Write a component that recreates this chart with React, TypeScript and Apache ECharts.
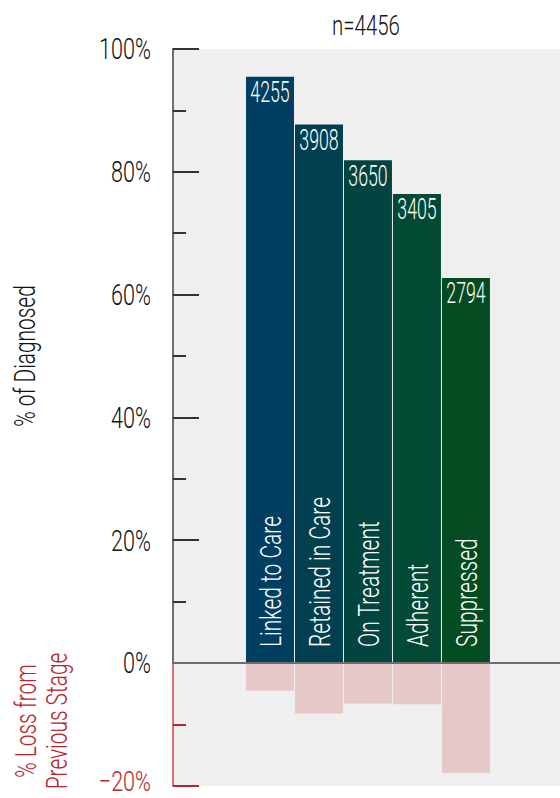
import React, { useEffect, useRef } from "react";
import * as echarts from "echarts";

const stages = ["Linked to Care", "Retained in Care", "On Treatment", "Adherent", "Suppressed"];
const counts = [4255, 3908, 3650, 3405, 2794];
const pctDiagnosed = [95.5, 87.7, 81.9, 76.4, 62.7];
const pctLoss = [-4.5, -8.2, -6.6, -6.7, -17.9];
const totalN = 4456;
const posTicks = [0, 20, 40, 60, 80, 100];
const posTickLabels = ["0%", "20%", "40%", "60%", "80%", "100%"];
const lossTicks = [-20];
const lossTickLabels = ["\u221220%"];
const barColors = ["#003e62", "#02404f", "#024540", "#024a33", "#034c21"];
const lossColor = "#e6c8c9";
const red = "#b5272d";
const ink = "#111";
const FONT = "Roboto, 'DejaVu Sans', sans-serif";
const WEIGHT = 300;
const X_MIN = -0.98;
const X_MAX = 6.92;

export default function App() {
  const ref = useRef<HTMLDivElement>(null);
  useEffect(() => {
    if (!ref.current) return;
    const chart = echarts.init(ref.current, null, { renderer: "svg" });

    const tickLabelSeries = (
      gridIdx: number, ticks: number[], labels: string[], color: string,
      size: number, scaleX: number, dy: number
    ) => ({
      type: "custom",
      xAxisIndex: gridIdx,
      yAxisIndex: gridIdx,
      z: 10,
      silent: true,
      data: ticks.map((v) => [X_MIN, v]),
      renderItem: (params: any, api: any) => {
        const p = api.coord([api.value(0), api.value(1)]);
        return {
          type: "text",
          x: p[0] - 22,
          y: p[1] + dy,
          scaleX,
          style: {
            text: labels[params.dataIndex],
            fontSize: size,
            lineHeight: 22,
            fontWeight: WEIGHT,
            fontFamily: FONT,
            fill: color,
            align: "right",
            verticalAlign: "middle",
          },
        };
      },
    });

    const option = {
      animation: false,
      textStyle: { fontFamily: FONT },
      grid: [
        { left: 173, right: 0, top: 49, height: 614, show: true, backgroundColor: "#efefef", borderWidth: 0, outerBoundsMode: "none", containLabel: false },
        { left: 173, right: 0, top: 663, height: 123, show: true, backgroundColor: "#efefef", borderWidth: 0, outerBoundsMode: "none", containLabel: false },
      ],
      graphic: [
        {
          type: "text", x: 366, y: 25, scaleX: 0.73, z: 10,
          style: { text: `n=${totalN}`, fontSize: 28, fontWeight: WEIGHT, fontFamily: FONT, fill: ink, align: "center", verticalAlign: "middle" },
        },
        {
          type: "text", x: 25, y: 356, rotation: Math.PI / 2, scaleX: 0.72, z: 10,
          style: { text: "% of Diagnosed", fontSize: 29, fontWeight: WEIGHT, fontFamily: FONT, fill: ink, align: "center", verticalAlign: "middle" },
        },
        {
          type: "text", x: 42, y: 721, rotation: Math.PI / 2, scaleX: 0.72, z: 10,
          style: {
            text: "% Loss from\nPrevious Stage", fontSize: 29, lineHeight: 31, fontWeight: WEIGHT, fontFamily: FONT, fill: red,
            align: "center", verticalAlign: "middle",
          },
        },
      ],
      xAxis: [
        {
          gridIndex: 0, type: "value", min: X_MIN, max: X_MAX, z: 5,
          axisLine: { show: true, onZero: true, lineStyle: { color: "#6e6e6e", width: 2 } },
          axisTick: { show: false }, axisLabel: { show: false }, splitLine: { show: false },
        },
        { gridIndex: 1, type: "value", min: X_MIN, max: X_MAX, show: false, splitLine: { show: false } },
      ],
      yAxis: [
        {
          gridIndex: 0, type: "value", min: 0, max: 100, interval: 20,
          axisLine: { show: true, onZero: false, lineStyle: { color: "#6e6e6e", width: 2 } },
          axisTick: { show: true, inside: true, length: 26, lineStyle: { color: "#333", width: 2 } },
          minorTick: { show: true, splitNumber: 2, length: 13, lineStyle: { color: "#333", width: 2 } },
          axisLabel: { show: false },
          splitLine: { show: false },
        },
        {
          gridIndex: 1, type: "value", min: -20, max: 0, interval: 20,
          axisLine: { show: true, onZero: false, lineStyle: { color: "#d27474", width: 2 } },
          axisTick: { show: true, inside: true, length: 26, lineStyle: { color: red, width: 2 } },
          minorTick: { show: true, splitNumber: 2, length: 13, lineStyle: { color: red, width: 2 } },
          axisLabel: { show: false },
          splitLine: { show: false },
        },
      ],
      series: [
        {
          type: "bar", xAxisIndex: 0, yAxisIndex: 0, barWidth: 48,
          data: pctDiagnosed.map((v, i) => ({ value: [i + 1, v], itemStyle: { color: barColors[i] } })),
        },
        {
          type: "bar", xAxisIndex: 1, yAxisIndex: 1, barWidth: 48,
          data: pctLoss.map((v, i) => [i + 1, v]),
          itemStyle: { color: lossColor },
        },
        {
          type: "custom", xAxisIndex: 0, yAxisIndex: 0, z: 10, silent: true,
          data: pctDiagnosed.map((v, i) => [i + 1, v]),
          renderItem: (params: any, api: any) => {
            const top = api.coord([api.value(0), api.value(1)]);
            const base = api.coord([api.value(0), 0]);
            const i = params.dataIndex;
            return {
              type: "group",
              children: [
                {
                  type: "text", x: top[0], y: top[1], scaleX: 0.59,
                  style: {
                    text: String(counts[i]), fontSize: 30, fontWeight: WEIGHT, fontFamily: FONT, fill: "#fff",
                    align: "center", verticalAlign: "top",
                  },
                },
                {
                  type: "text", x: top[0] + 1, y: base[1] - 16, rotation: Math.PI / 2, scaleX: 0.7,
                  style: {
                    text: stages[i], fontSize: 30, fontWeight: WEIGHT, fontFamily: FONT, fill: "#fff",
                    align: "left", verticalAlign: "middle",
                  },
                },
              ],
            };
          },
        },
        tickLabelSeries(0, posTicks, posTickLabels, ink, 30, 0.72, 0),
        tickLabelSeries(1, lossTicks, lossTickLabels, red, 28, 0.77, -5),
      ],
    };
    chart.setOption(option as any);
    return () => chart.dispose();
  }, []);
  return (
    <div
      ref={ref}
      style={{ position: "absolute", left: 0, top: 0, width: 560, height: 798, background: "#fff" }}
    />
  );
}
